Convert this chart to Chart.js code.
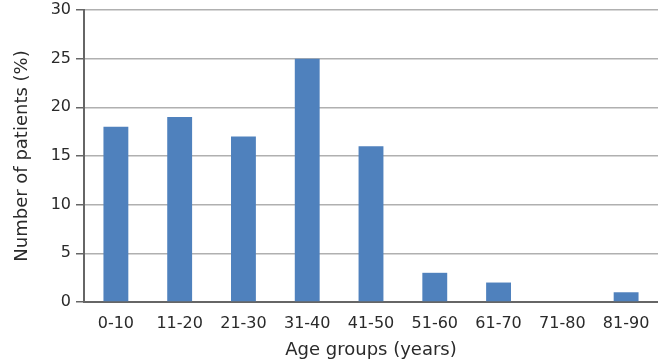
<!DOCTYPE html>
<html>
<head>
<meta charset="utf-8">
<script src="https://cdn.jsdelivr.net/npm/chart.js@4"></script>
<style>
  html, body { margin: 0; padding: 0; background: #fff; }
  #wrap { width: 658px; height: 361px; position: relative; }
</style>
</head>
<body>
<div id="wrap"><canvas id="chart" width="658" height="361"></canvas></div>
<script>
// age groups and share of patients (%)
const ageGroups = ['0-10', '11-20', '21-30', '31-40', '41-50', '51-60', '61-70', '71-80', '81-90'];
const patientPct = [18, 19, 17, 25, 16, 3, 2, 0, 1];
const yTicks = [0, 5, 10, 15, 20, 25, 30];

const textColor = '#2a2a2a';
const tickFont = { family: 'DejaVu Sans', size: 16 };
const titleFont = { family: 'DejaVu Sans', size: 18 };

new Chart(document.getElementById('chart'), {
  type: 'bar',
  data: {
    labels: ageGroups,
    datasets: [{
      data: patientPct,
      backgroundColor: '#4f81bd',
      borderWidth: 0,
      barPercentage: 0.39,
      categoryPercentage: 1
    }]
  },
  options: {
    responsive: false,
    animation: false,
    layout: { padding: 0 },
    plugins: {
      legend: { display: false },
      tooltip: { enabled: false }
    },
    scales: {
      x: {
        grid: { display: false },
        border: { display: true, color: '#666', width: 2 },
        ticks: { color: textColor, font: tickFont, padding: 4, maxRotation: 0, autoSkip: false },
        title: { display: true, text: 'Age groups (years)', color: textColor, font: titleFont, padding: { top: 0, bottom: 0 } },
        afterFit: (s) => { s.height = 59; }
      },
      y: {
        min: yTicks[0],
        max: yTicks[yTicks.length - 1],
        afterBuildTicks: (s) => { s.ticks = yTicks.map(v => ({ value: v })); },
        grid: { color: '#b0b0b0', lineWidth: 1.5, tickLength: 8, tickColor: '#666' },
        border: { display: true, color: '#666', width: 2 },
        ticks: { color: textColor, font: tickFont, padding: 5 },
        title: { display: true, text: 'Number of patients (%)', color: textColor, font: titleFont, padding: { top: 12, bottom: 0 } },
        afterFit: (s) => { s.width = 84; s.paddingTop = 10; }
      }
    }
  }
});
</script>
</body>
</html>
